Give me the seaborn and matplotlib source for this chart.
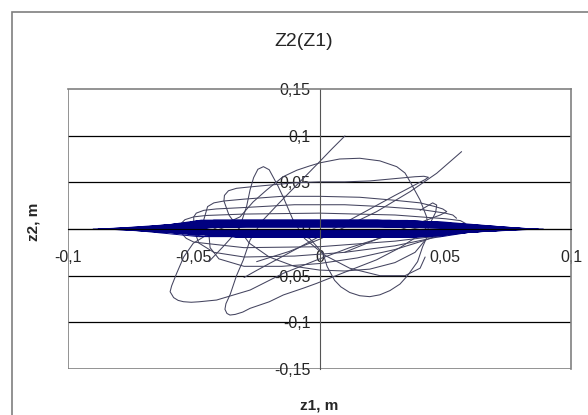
import pandas as pd
import matplotlib
matplotlib.use("Agg")
import matplotlib.pyplot as plt
import seaborn as sns
from matplotlib.patches import Rectangle

# Tick values and labels (decimal comma as in the original)
x_ticks = [-0.1, -0.05, 0, 0.05, 0.1]
x_labels = ["-0,1", "-0,05", "0", "0,05", "0,1"]
y_ticks = [-0.15, -0.1, -0.05, 0, 0.05, 0.1, 0.15]
y_labels = ["-0,15", "-0,1", "-0,05", "0", "0,05", "0,1", "0,15"]

# Dense late-time band: left/right turning points and heights of each sweep
band_left = [-0.090, -0.086, -0.088, -0.082, -0.085, -0.079, -0.083, -0.076, -0.080, -0.072,
             -0.078, -0.070, -0.074, -0.066, -0.071, -0.064, -0.068, -0.060, -0.065, -0.058,
             -0.062, -0.055, -0.060, -0.052, -0.057, -0.050, -0.054, -0.048]
band_right = [0.089, 0.086, 0.087, 0.083, 0.085, 0.080, 0.082, 0.078, 0.080, 0.075,
              0.077, 0.072, 0.074, 0.070, 0.071, 0.068, 0.069, 0.066, 0.067, 0.064,
              0.065, 0.062, 0.063, 0.060, 0.061, 0.058, 0.059, 0.056]
band_up = [0.0020, 0.0040, 0.0060, 0.0080, 0.0092, 0.0070, 0.0050, 0.0030, 0.0085, 0.0095,
           0.0065, 0.0045, 0.0025, 0.0078, 0.0058, 0.0090, 0.0038, 0.0072, 0.0084, 0.0052,
           0.0032, 0.0066, 0.0094, 0.0044, 0.0076, 0.0056, 0.0026, 0.0070]
band_down = [-0.0015, -0.0032, -0.0050, -0.0070, -0.0082, -0.0064, -0.0044, -0.0026, -0.0076, -0.0088,
             -0.0058, -0.0038, -0.0020, -0.0070, -0.0050, -0.0084, -0.0032, -0.0064, -0.0078, -0.0046,
             -0.0026, -0.0058, -0.0086, -0.0040, -0.0070, -0.0052, -0.0022, -0.0064]
band_mid_up = [-0.010, 0.008, -0.004, 0.012, 0.000, -0.015, 0.010, -0.006, 0.004, -0.012,
               0.014, -0.002, 0.006, -0.008, 0.016, -0.010, 0.002, 0.009, -0.014, 0.005,
               -0.004, 0.011, -0.007, 0.013, -0.001, 0.007, -0.011, 0.003]
band_mid_down = [0.006, -0.009, 0.012, -0.003, -0.013, 0.009, -0.005, 0.015, -0.011, 0.003,
                 -0.007, 0.010, -0.014, 0.005, -0.002, 0.013, -0.009, -0.004, 0.008, -0.012,
                 0.011, -0.006, 0.002, -0.010, 0.014, -0.003, 0.007, -0.008]

# Early-time loops (z1, z2 in m)
start_z1 = [0.0101, 0.0050, 0.0000, -0.0080, -0.0160, -0.0230, -0.0276, -0.0303, -0.0330, -0.0355,
            -0.0372, -0.0376, -0.0368, -0.0356, -0.0335, -0.0305, -0.0276, -0.0200, -0.0144, -0.0060,
            -0.0011, 0.0094, 0.0227, 0.0320, 0.0400, 0.0440, 0.0462, 0.0466, 0.0450, 0.0400]
start_z2 = [0.0997, 0.0860, 0.0720, 0.0500, 0.0280, 0.0080, -0.0118, -0.0332, -0.0500, -0.0700,
            -0.0800, -0.0860, -0.0905, -0.0922, -0.0915, -0.0890, -0.0850, -0.0780, -0.0707, -0.0630,
            -0.0582, -0.0470, -0.0330, -0.0200, -0.0060, 0.0060, 0.0180, 0.0257, 0.0280, 0.0200]

circle_z1 = [-0.0420, -0.0316, -0.0264, -0.0210, -0.0145, -0.0090, -0.0040, 0.0002, 0.0080, 0.0160,
             0.0240, 0.0307, 0.0340, 0.0360, 0.0400, 0.0426, 0.0432, 0.0425, 0.0410, 0.0390,
             0.0350, 0.0320, 0.0280, 0.0240, 0.0200, 0.0160, 0.0120, 0.0085, 0.0060, 0.0030,
             0.0014, -0.0040, -0.0120]
circle_z2 = [0.0000, 0.0130, 0.0290, 0.0418, 0.0560, 0.0630, 0.0675, 0.0709, 0.0750, 0.0758,
             0.0730, 0.0668, 0.0600, 0.0507, 0.0310, 0.0130, 0.0000, -0.0100, -0.0190, -0.0350,
             -0.0500, -0.0590, -0.0660, -0.0705, -0.0725, -0.0715, -0.0680, -0.0620, -0.0550, -0.0400,
             -0.0260, -0.0100, -0.0030]

loop_a_z1 = [-0.0350, -0.0440, -0.0502, -0.0540, -0.0568, -0.0588, -0.0594, -0.0580, -0.0562, -0.0541,
             -0.0510, -0.0480, -0.0409, -0.0276, -0.0144, -0.0011, 0.0120, 0.0250, 0.0370, 0.0470]
loop_a_z2 = [0.0050, -0.0050, -0.0153, -0.0300, -0.0475, -0.0610, -0.0672, -0.0735, -0.0765, -0.0779,
             -0.0785, -0.0780, -0.0761, -0.0654, -0.0475, -0.0332, -0.0200, -0.0090, 0.0000, 0.0060]

petal1_z1 = [-0.0440, -0.0380, -0.0320, -0.0290, -0.0276, -0.0262, -0.0245, -0.0223, -0.0200, -0.0185,
             -0.0165, -0.0145, -0.0105, -0.0060, 0.0020, 0.0120, 0.0240, 0.0340, 0.0400, 0.0420]
petal1_z2 = [-0.0350, -0.0180, 0.0000, 0.0240, 0.0420, 0.0550, 0.0640, 0.0668, 0.0635, 0.0560,
             0.0460, 0.0346, 0.0096, -0.0100, -0.0280, -0.0420, -0.0500, -0.0500, -0.0420, -0.0300]

cycle_a_z1 = [-0.0300, -0.0254, 0.0120, 0.0300, 0.0420, 0.0433, 0.0415, 0.0380, 0.0300, 0.0200,
              0.0100, 0.0000, -0.0100, -0.0200, -0.0280, -0.0330, -0.0362, -0.0378, -0.0380, -0.0360,
              -0.0320, -0.0280, -0.0200, -0.0100, 0.0000, 0.0100, 0.0200, 0.0300, 0.0380, 0.0420]
cycle_a_z2 = [-0.0520, -0.0450, 0.0096, 0.0360, 0.0530, 0.0554, 0.0565, 0.0560, 0.0540, 0.0515,
              0.0505, 0.0505, 0.0495, 0.0470, 0.0450, 0.0436, 0.0410, 0.0360, 0.0300, 0.0150,
              0.0000, -0.0150, -0.0300, -0.0400, -0.0440, -0.0450, -0.0430, -0.0360, -0.0250, -0.0120]

cycle_b_z1 = [0.0100, 0.0300, 0.0480, 0.0506, 0.0490, 0.0460, 0.0400, 0.0290, 0.0160, 0.0000,
              -0.0150, -0.0300, -0.0380, -0.0420, -0.0445, -0.0460, -0.0455, -0.0440, -0.0435, -0.0400,
              -0.0300, -0.0150, 0.0000, 0.0150, 0.0300, 0.0420, 0.0500]
cycle_b_z2 = [-0.0250, -0.0030, 0.0150, 0.0186, 0.0215, 0.0240, 0.0280, 0.0310, 0.0340, 0.0350,
              0.0350, 0.0320, 0.0300, 0.0280, 0.0240, 0.0100, 0.0020, -0.0050, -0.0200, -0.0320,
              -0.0400, -0.0400, -0.0370, -0.0310, -0.0220, -0.0120, -0.0040]

cycle_c_z1 = [0.0545, 0.0530, 0.0500, 0.0400, 0.0250, 0.0100, -0.0100, -0.0300, -0.0410, -0.0460,
              -0.0490, -0.0500, -0.0500, -0.0480, -0.0420, -0.0300, -0.0100, 0.0100, 0.0300, 0.0480,
              0.0560]
cycle_c_z2 = [0.0115, 0.0150, 0.0170, 0.0210, 0.0240, 0.0260, 0.0260, 0.0230, 0.0215, 0.0200,
              0.0170, 0.0130, 0.0000, -0.0150, -0.0250, -0.0300, -0.0290, -0.0250, -0.0180, -0.0080,
              -0.0020]

cycle_d_z1 = [0.0580, 0.0560, 0.0500, 0.0300, 0.0000, -0.0300, -0.0450, -0.0500, -0.0535, -0.0550,
              -0.0550, -0.0530, -0.0500, -0.0300, 0.0000, 0.0300, 0.0550, 0.0620]
cycle_d_z2 = [0.0060, 0.0090, 0.0110, 0.0150, 0.0170, 0.0160, 0.0145, 0.0130, 0.0100, 0.0060,
              -0.0040, -0.0100, -0.0140, -0.0200, -0.0190, -0.0130, -0.0050, 0.0000]

end_z1 = [-0.0250, -0.0120, 0.0000, 0.0134, 0.0227, 0.0360, 0.0466, 0.0565]
end_z2 = [-0.0350, -0.0240, -0.0110, 0.0064, 0.0186, 0.0400, 0.0597, 0.0829]

# Build the band path from the sweep lists (flat-topped sweeps)
band_rows = []
for i in range(len(band_left)):
    band_rows.append((band_left[i], 0.0))
    band_rows.append((band_mid_up[i] - 0.035, band_up[i]))
    band_rows.append((band_mid_up[i] + 0.035, band_up[i]))
    band_rows.append((band_right[i], 0.0))
    band_rows.append((band_mid_down[i] + 0.035, band_down[i]))
    band_rows.append((band_mid_down[i] - 0.035, band_down[i]))
band_df = pd.DataFrame(band_rows, columns=["z1", "z2"])
band_df["seg"] = 0

loops = [(start_z1, start_z2), (circle_z1, circle_z2), (loop_a_z1, loop_a_z2),
         (petal1_z1, petal1_z2), (cycle_a_z1, cycle_a_z2), (cycle_b_z1, cycle_b_z2),
         (cycle_c_z1, cycle_c_z2), (cycle_d_z1, cycle_d_z2), (end_z1, end_z2)]
frames = []
for k, (a, b) in enumerate(loops):
    frames.append(pd.DataFrame({"z1": a, "z2": b, "seg": k}))
loop_df = pd.concat(frames, ignore_index=True)

sns.set_style("white")
plt.rcParams["font.family"] = ["Liberation Sans", "DejaVu Sans"]

fig = plt.figure(figsize=(5.88, 4.15), dpi=100)
ax = fig.add_axes([68 / 588, 1 - 369 / 415, 503 / 588, 280 / 415])

# grid lines and plot-area border
for v in [-0.1, -0.05, 0.05, 0.1]:
    ax.axhline(v, color="black", lw=0.9, zorder=0)
ax.axhline(0, color="black", lw=0.9, zorder=0)
ax.axhline(-0.15, color="#808080", lw=1.2, zorder=0)
ax.axvline(-0.1, color="#808080", lw=1.2, zorder=0)

sns.lineplot(data=loop_df, x="z1", y="z2", units="seg", estimator=None, sort=False,
             color="#44445f", lw=0.75, ax=ax)
sns.lineplot(data=band_df, x="z1", y="z2", units="seg", estimator=None, sort=False,
             color="#000080", lw=0.7, ax=ax)

ax.set_xlim(-0.1, 0.1)
ax.set_ylim(-0.15, 0.15)
ax.set_xlabel("")
ax.set_ylabel("")
ax.spines["left"].set_position(("data", 0))
ax.spines["bottom"].set_position(("data", 0))
ax.spines["left"].set_color("#555555")
ax.spines["bottom"].set_color("black")
for s in ["top", "right"]:
    ax.spines[s].set_color("#808080")
    ax.spines[s].set_linewidth(1.2)
ax.set_xticks(x_ticks)
ax.set_xticklabels(x_labels)
ax.set_yticks(y_ticks)
ax.set_yticklabels(y_labels)
ax.tick_params(axis="y", direction="out", length=4.5, width=0.8, color="#555555", pad=2, labelsize=11.5)
ax.tick_params(axis="x", direction="out", length=3, width=0.8, color="#555555", pad=12, labelsize=11.5)

fig.text(304 / 588, 1 - 42 / 415, "Z2(Z1)", ha="center", va="center", fontsize=14)
fig.text(319 / 588, 1 - 405 / 415, "z1, m", ha="center", va="center", fontsize=11, fontweight="bold")
fig.text(33 / 588, 1 - 222 / 415, "z2, m", ha="center", va="center", rotation=90,
         fontsize=11, fontweight="bold")

fig.add_artist(Rectangle((12 / 588, -0.05), 1.0, 1 - 12 / 415 + 0.05, transform=fig.transFigure,
                         fill=False, edgecolor="#7f7f7f", lw=1.2))

fig.savefig("out.png", dpi=100)
